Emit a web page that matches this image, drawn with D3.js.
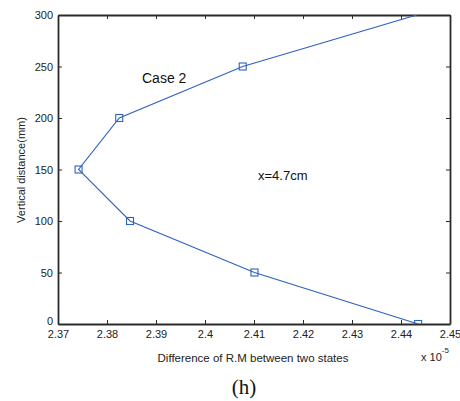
<!DOCTYPE html>
<html><head><meta charset="utf-8">
<script src="https://cdn.jsdelivr.net/npm/d3@7"></script>
<style>body{margin:0;background:#fff}svg{display:block}text{font-family:Arial,"Liberation Sans",sans-serif}</style>
</head><body><div id="chart"></div>
<script>
const xValues = [2.4435, 2.4101, 2.3847, 2.3742, 2.3825, 2.4077, 2.4432];
const yValues = [0, 50, 100, 150, 200, 250, 300];
const showMarker = [true, true, true, true, true, true, false];
const xTicks = [2.37, 2.38, 2.39, 2.40, 2.41, 2.42, 2.43, 2.44, 2.45];
const xTickLabels = ["2.37","2.38","2.39","2.4","2.41","2.42","2.43","2.44","2.45"];
const yTicks = [0, 50, 100, 150, 200, 250, 300];

const W = 460, H = 401;
const m = {l: 58, r: 10, t: 15, b: 77};
const svg = d3.select("#chart").append("svg").attr("width", W).attr("height", H);
const x = d3.scaleLinear().domain([2.37, 2.45]).range([m.l, W - m.r]);
const y = d3.scaleLinear().domain([0, 300]).range([H - m.b, m.t]);
const axisCol = "#2b2b2b";
const lineCol = "#2f62c0";

// axes
const gx = svg.append("g").attr("transform", `translate(0,${y(0)})`)
  .call(d3.axisBottom(x).tickValues(xTicks).tickFormat((d,i)=>xTickLabels[i]).tickSizeInner(-4).tickSizeOuter(0).tickPadding(7));
const gxt = svg.append("g").attr("transform", `translate(0,${y(300)})`)
  .call(d3.axisTop(x).tickValues(xTicks).tickFormat("").tickSizeInner(-4).tickSizeOuter(0));
const gy = svg.append("g").attr("transform", `translate(${x(2.37)},0)`)
  .call(d3.axisLeft(y).tickValues(yTicks).tickSizeInner(-4).tickSizeOuter(0).tickPadding(5));
const gyr = svg.append("g").attr("transform", `translate(${x(2.45)},0)`)
  .call(d3.axisRight(y).tickValues(yTicks).tickFormat("").tickSizeInner(-4).tickSizeOuter(0));
[gx, gxt, gy, gyr].forEach(g => {
  g.selectAll(".domain").attr("stroke", axisCol).attr("stroke-width", 1.8);
  g.selectAll(".tick line").attr("stroke", axisCol).attr("stroke-width", 1);
  g.selectAll(".tick text").attr("fill", "#222").style("font-size", "11px").style("font-family", "Arial, 'Liberation Sans', sans-serif");
});
gx.selectAll(".tick text").attr("dy", "0.6em");
gy.selectAll(".tick text").filter(d => d === 0).attr("dy", "0.05em");

// clip
svg.append("clipPath").attr("id", "clip").append("rect")
  .attr("x", m.l).attr("y", m.t).attr("width", W - m.r - m.l).attr("height", H - m.b - m.t);

const pts = xValues.map((v, i) => ({x: v, y: yValues[i], mk: showMarker[i]}));
const plot = svg.append("g").attr("clip-path", "url(#clip)");
plot.append("path").datum(pts)
  .attr("d", d3.line().x(d => x(d.x)).y(d => y(d.y)))
  .attr("fill", "none").attr("stroke", lineCol).attr("stroke-width", 1.1);
plot.selectAll("rect.mk").data(pts.filter(d => d.mk)).enter().append("rect")
  .attr("class", "mk")
  .attr("x", d => x(d.x) - 3.5).attr("y", d => y(d.y) - 3.5)
  .attr("width", 7).attr("height", 7)
  .attr("fill", "none").attr("stroke", lineCol).attr("stroke-width", 1.1);

// annotations
svg.append("text").attr("x", 142).attr("y", 83).style("font-size", "14px").attr("fill", "#111").text("Case 2");
svg.append("text").attr("x", 258).attr("y", 180).style("font-size", "13px").attr("fill", "#111").text("x=4.7cm");

// axis labels
svg.append("text").attr("transform", "translate(25,170) rotate(-90)").attr("text-anchor", "middle")
  .style("font-size", "11px").attr("fill", "#222").text("Vertical distance(mm)");
svg.append("text").attr("x", 253).attr("y", 362).attr("text-anchor", "middle")
  .style("font-size", "11.5px").attr("fill", "#222").text("Difference of R.M between two states");
const ex = svg.append("text").attr("x", 421).attr("y", 361).style("font-size", "11px").attr("fill", "#222");
ex.append("tspan").text("x 10");
ex.append("tspan").attr("dy", -8).style("font-size", "8px").text("-5");

svg.append("text").attr("x", 244).attr("y", 394).attr("text-anchor", "middle")
  .style("font-family", "'Times New Roman','Liberation Serif',serif").style("font-size", "21px").attr("fill", "#111").text("(h)");
</script>
</body></html>
